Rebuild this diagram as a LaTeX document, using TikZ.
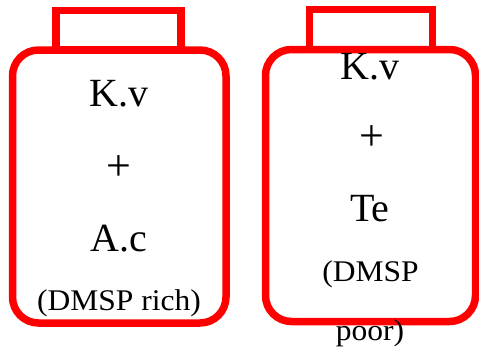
\documentclass[tikz,border=0pt]{standalone}
\usepackage{graphicx}
\usepackage{fontspec}
\setmainfont{Liberation Serif}
\begin{document}
\begin{tikzpicture}[x=1pt,y=-1pt,
  jarbody/.style={draw=red, line width=7.5pt, rounded corners=26pt, inner sep=0pt, outer sep=0pt},
  jarcap/.style={draw=red, line width=7.5pt, inner sep=0pt, outer sep=0pt},
  bigtxt/.style={anchor=base, inner sep=0pt, font=\fontsize{40}{42}\selectfont},
  plustxt/.style={anchor=base, inner sep=0pt, font=\fontsize{44}{46}\selectfont},
  smalltxt/.style={anchor=base, inner sep=0pt, font=\fontsize{30}{32}\selectfont}]
\useasboundingbox (0,0) rectangle (479,348);
% left jar
\node[jarcap, minimum width=125pt, minimum height=39.5pt] (capL) at (118.5,30.25) {};
\node[jarbody, minimum width=213.5pt, minimum height=273pt] (bodyL) at (119.25,186.5) {};
% right jar
\node[jarcap, minimum width=123pt, minimum height=40pt] (capR) at (371,29.5) {};
\node[jarbody, minimum width=210pt, minimum height=272pt] (bodyR) at (370.5,185.5) {};
% left texts
\node[bigtxt] (kvL) at (119,106) {K.v};
\node[plustxt] (plusL) at (118.7,180) {+};
\node[bigtxt] (ac) at (119,251) {A.c};
\node[smalltxt] (rich) at (119,310.7) {\scalebox{1.05}[1]{(DMSP rich)}};
% right texts
\node[bigtxt] (kvR) at (370,79) {K.v};
\node[plustxt] (plusR) at (371.7,150.9) {+};
\node[bigtxt] (te) at (370,221.5) {Te};
\node[smalltxt] (dmsp) at (370.5,281.7) {\scalebox{1.05}[1]{(DMSP}};
\node[smalltxt] (poor) at (370,340.7) {\scalebox{1.05}[1]{poor)}};
\end{tikzpicture}
\end{document}
